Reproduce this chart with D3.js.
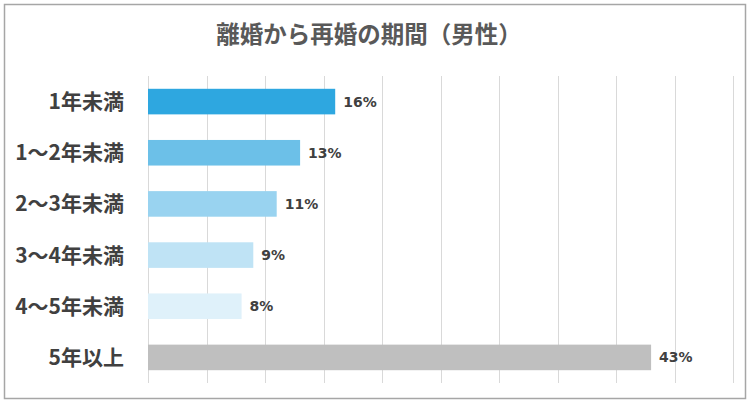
<!DOCTYPE html>
<html>
<head>
<meta charset="utf-8">
<script src="https://d3js.org/d3.v7.min.js"></script>
<style>
  body { margin: 0; background: #fff; }
  text { font-family: "Noto Sans CJK JP", "Noto Sans", sans-serif; }
  .val { font-family: Verdana, "DejaVu Sans", sans-serif; }
</style>
</head>
<body>
<div id="chart"></div>
<script>
  var categories = ["1年未満", "1～2年未満", "2～3年未満", "3～4年未満", "4～5年未満", "5年以上"],
    values = [16, 13, 11, 9, 8, 43],
    colors = ["#2ea7e0", "#6cc0e8", "#99d3f0", "#bfe3f5", "#dff1fa", "#bfbfbf"],
    tickValues = d3.range(0, 51, 5);

  var width = 750, height = 403,
    margin = {top: 76, left: 148, right: 16, bottom: 20};

  var svg = d3.select("#chart").append("svg")
    .attr("width", width).attr("height", height);

  // outer frame
  svg.append("rect")
    .attr("x", 4.5).attr("y", 4.5)
    .attr("width", width - 9).attr("height", height - 9)
    .attr("fill", "#fff").attr("stroke", "#a6a6a6").attr("stroke-width", 1.5);

  svg.append("text")
    .attr("x", 369).attr("y", 43)
    .attr("text-anchor", "middle")
    .attr("font-size", 23.5).attr("font-weight", "bold")
    .attr("fill", "#595959")
    .text("離婚から再婚の期間（男性）");

  var x = d3.scaleLinear().domain([0, 50]).range([margin.left, 733]);
  var y = d3.scaleBand().domain(categories).range([margin.top, 383])
    .paddingInner(0.5).paddingOuter(0.25);

  // vertical gridlines
  svg.append("g").selectAll("line")
    .data(tickValues)
    .enter().append("line")
    .attr("x1", function (d) { return Math.round(x(d)) + 0.5; })
    .attr("x2", function (d) { return Math.round(x(d)) + 0.5; })
    .attr("y1", margin.top).attr("y2", 383)
    .attr("stroke", "#d9d9d9").attr("stroke-width", 1);

  svg.append("g").selectAll("rect")
    .data(values)
    .enter().append("rect")
    .attr("x", x(0))
    .attr("y", function (d, i) { return y(categories[i]); })
    .attr("width", function (d) { return x(d) - x(0); })
    .attr("height", y.bandwidth())
    .attr("fill", function (d, i) { return colors[i]; });

  svg.append("g").selectAll("text")
    .data(values)
    .enter().append("text")
    .attr("class", "val")
    .attr("x", function (d) { return x(d) + 8; })
    .attr("y", function (d, i) { return y(categories[i]) + y.bandwidth() / 2; })
    .attr("dy", "0.36em")
    .attr("font-size", 14).attr("font-weight", "bold")
    .attr("fill", "#404040")
    .text(function (d) { return d + "%"; });

  svg.append("g").selectAll("text")
    .data(categories)
    .enter().append("text")
    .attr("x", 124)
    .attr("y", function (d) { return y(d) + y.bandwidth() / 2; })
    .attr("dy", "0.36em")
    .attr("text-anchor", "end")
    .attr("font-size", 21).attr("font-weight", "bold")
    .attr("fill", "#404040")
    .text(function (d) { return d; });
</script>
</body>
</html>
